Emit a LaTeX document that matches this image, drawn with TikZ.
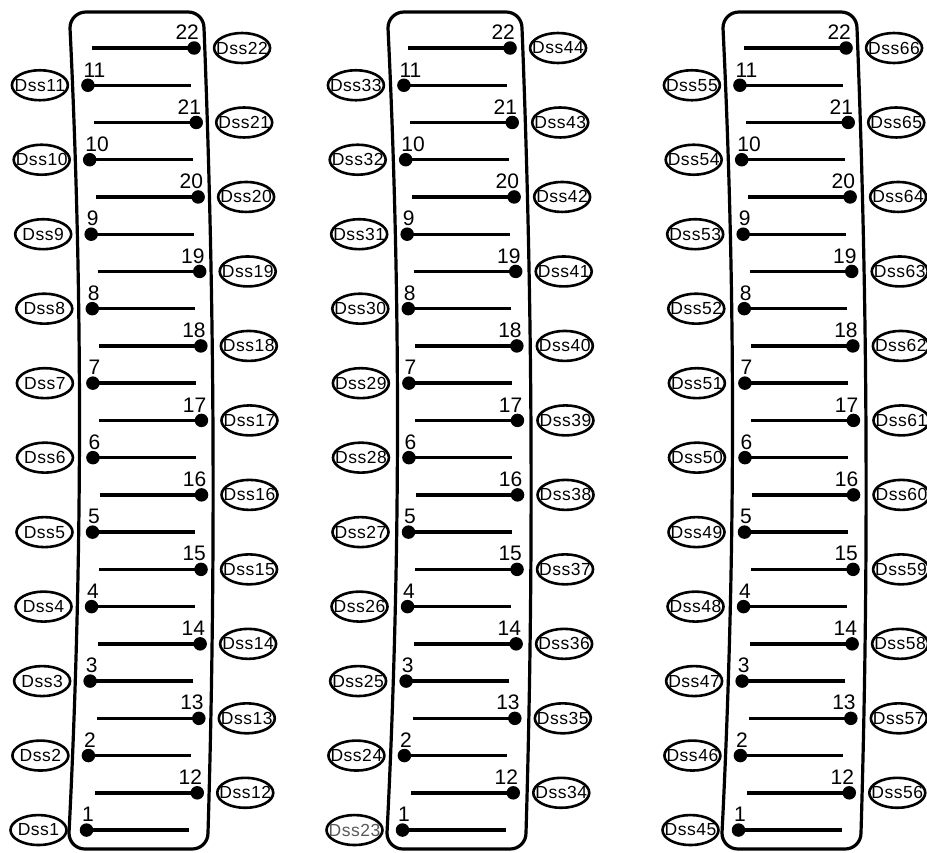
\documentclass[tikz,border=0pt]{standalone}
\usepackage{fontspec}
\setmainfont{Liberation Sans}
\newfontfamily\tagfont[LetterSpace=3]{Liberation Sans}
\usetikzlibrary{shapes.geometric}
\begin{document}
\begin{tikzpicture}[x=1pt,y=-1pt,
  boxline/.style={line width=3.2pt, line join=round},
  pinline/.style={line width=3.4pt},
  pindot/.style={circle, fill=black, minimum size=13.5pt, inner sep=0pt},
  pinnum/.style={inner sep=0pt, font=\fontsize{21}{21}\selectfont},
  tag/.style={ellipse, draw, line width=2.6pt, minimum width=56pt, minimum height=30pt, inner sep=-10pt, font=\tagfont\fontsize{17.5}{17.5}\selectfont},
]
\useasboundingbox (0,0) rectangle (927,852);
% boxes
\foreach \bx in {0,318,653}{
  \begin{scope}[xshift=\bx pt]
    \draw[boxline] (86,12) -- (188,12)
      .. controls (197,12) and (204,19) .. (204,28)
      .. controls (214.6,296) and (216,565) .. (208,833)
      .. controls (208,842) and (201,849) .. (192,849)
      -- (85,849)
      .. controls (76,849) and (69,842) .. (69,833)
      .. controls (82.6,565) and (83,296) .. (70,28)
      .. controls (70,19) and (77,12) .. (86,12) -- cycle;
  \end{scope}
}
% pins
\foreach \col/\cx/\base in {1/0/0, 2/316/22, 3/652/44}{
  \foreach \n in {1,...,11}{
    \pgfmathsetmacro\yy{48+(23-2*\n)*37.24}
    \pgfmathsetmacro\tq{(\yy-12)/837}
    \pgfmathsetmacro\xx{\cx+86+7*sin(180*\tq)}
    \pgfmathtruncatemacro\lab{\base+\n}
    \ifnum\lab=23 \def\tc{black!65}\else\def\tc{black}\fi
    \node[pindot] (d\col-\n) at (\xx,\yy) {};
    \coordinate (e\col-\n) at (\xx+103,\yy);
    \draw[pinline] (d\col-\n.center) -- (e\col-\n);
    \node[pinnum, anchor=south west] (n\col-\n) at (\xx-4.5,\yy-8) {\n};
    \node[tag, text=\tc] (t\col-\n) at (\xx-48,\yy) {Dss\lab};
  }
  \foreach \m in {12,...,22}{
    \pgfmathsetmacro\yy{48+2*(22-\m)*37.24}
    \pgfmathsetmacro\tq{(\yy-12)/837}
    \pgfmathsetmacro\xx{\cx+193+3*\tq+7*sin(180*\tq)}
    \pgfmathtruncatemacro\lab{\base+\m}
    \node[pindot] (d\col-\m) at (\xx,\yy) {};
    \coordinate (s\col-\m) at (\xx-102,\yy);
    \draw[pinline] (s\col-\m) -- (d\col-\m.center);
    \node[pinnum, anchor=south east] (n\col-\m) at (\xx+5,\yy-8) {\m};
    \node[tag] (t\col-\m) at (\xx+48,\yy) {Dss\lab};
  }
}
\end{tikzpicture}
\end{document}
